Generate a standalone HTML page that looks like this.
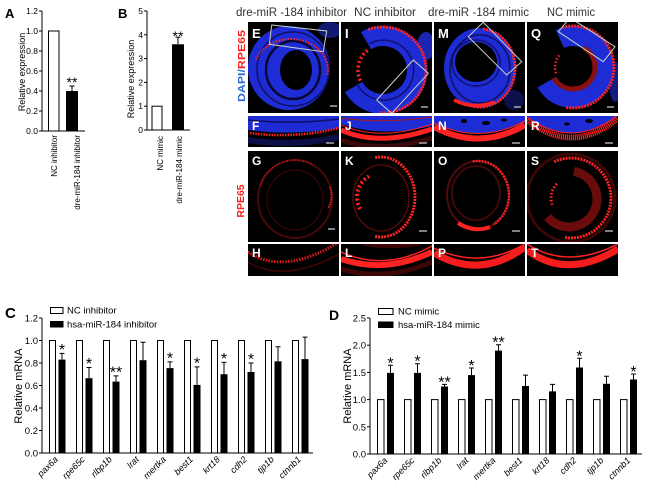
<!DOCTYPE html>
<html><head><meta charset="utf-8"><style>
html,body{margin:0;padding:0;background:#fff;}
svg{display:block;}
text{font-family:"Liberation Sans",Arial,sans-serif;}
</style></head><body>
<svg width="650" height="492" viewBox="0 0 650 492" xmlns="http://www.w3.org/2000/svg">
<defs>
<clipPath id="c91"><rect x="0" y="0" width="91" height="91"/></clipPath>
<clipPath id="c31"><rect x="0" y="0" width="91" height="31"/></clipPath>
<clipPath id="c32"><rect x="0" y="0" width="91" height="32"/></clipPath>
</defs>
<rect width="650" height="492" fill="#fff"/>

<!-- ===== Panel A ===== -->
<text x="5" y="18" font-size="13" font-weight="bold">A</text>
<g stroke="#000" stroke-width="1" fill="none">
<line x1="42" y1="11" x2="42" y2="131"/>
<line x1="42" y1="131" x2="85" y2="131"/>
<line x1="39" y1="131" x2="42" y2="131"/><line x1="39" y1="111" x2="42" y2="111"/>
<line x1="39" y1="91" x2="42" y2="91"/><line x1="39" y1="71" x2="42" y2="71"/>
<line x1="39" y1="51" x2="42" y2="51"/><line x1="39" y1="31" x2="42" y2="31"/>
<line x1="39" y1="11" x2="42" y2="11"/>
</g>
<g font-size="8.5" text-anchor="end">
<text x="38" y="134">0.0</text><text x="38" y="114">0.2</text><text x="38" y="94">0.4</text>
<text x="38" y="74">0.6</text><text x="38" y="54">0.8</text><text x="38" y="34">1.0</text><text x="38" y="14">1.2</text>
</g>
<rect x="48.5" y="31" width="10.5" height="100" fill="#fff" stroke="#000"/>
<rect x="66" y="91" width="12" height="40" fill="#000"/>
<line x1="72" y1="91" x2="72" y2="86" stroke="#000"/><line x1="69.5" y1="86" x2="74.5" y2="86" stroke="#000"/>
<text x="72" y="87" font-size="14" text-anchor="middle">**</text>
<text transform="translate(25,72) rotate(-90)" font-size="9" text-anchor="middle">Relative expression</text>
<text transform="translate(57,135) rotate(-90)" font-size="8" text-anchor="end">NC inhibitor</text>
<text transform="translate(80,135) rotate(-90)" font-size="8" text-anchor="end">dre-miR-184 inhibitor</text>

<!-- ===== Panel B ===== -->
<text x="118" y="18" font-size="13" font-weight="bold">B</text>
<g stroke="#000" stroke-width="1" fill="none">
<line x1="147" y1="11" x2="147" y2="130"/>
<line x1="147" y1="130" x2="190" y2="130"/>
<line x1="144" y1="130" x2="147" y2="130"/><line x1="144" y1="106.2" x2="147" y2="106.2"/>
<line x1="144" y1="82.4" x2="147" y2="82.4"/><line x1="144" y1="58.6" x2="147" y2="58.6"/>
<line x1="144" y1="34.8" x2="147" y2="34.8"/><line x1="144" y1="11" x2="147" y2="11"/>
</g>
<g font-size="8.5" text-anchor="end">
<text x="143" y="133">0</text><text x="143" y="109.2">1</text><text x="143" y="85.4">2</text>
<text x="143" y="61.6">3</text><text x="143" y="37.8">4</text><text x="143" y="14">5</text>
</g>
<rect x="152" y="106.2" width="10" height="23.8" fill="#fff" stroke="#000"/>
<rect x="172" y="44.3" width="12" height="85.7" fill="#000"/>
<line x1="178" y1="44.3" x2="178" y2="37.2" stroke="#000"/><line x1="175.5" y1="37.2" x2="180.5" y2="37.2" stroke="#000"/>
<text x="178" y="41" font-size="14" text-anchor="middle">**</text>
<text transform="translate(134,79) rotate(-90)" font-size="9" text-anchor="middle">Relative expression</text>
<text transform="translate(163,136) rotate(-90)" font-size="8" text-anchor="end">NC mimic</text>
<text transform="translate(182,136) rotate(-90)" font-size="8" text-anchor="end">dre-miR-184 mimic</text>

<!-- ===== Image column titles ===== -->
<g font-size="11.5" fill="#333">
<text x="236" y="16" textLength="111" lengthAdjust="spacingAndGlyphs">dre-miR -184 inhibitor</text>
<text x="354" y="16" textLength="62" lengthAdjust="spacingAndGlyphs">NC inhibitor</text>
<text x="428" y="16" textLength="101" lengthAdjust="spacingAndGlyphs">dre-miR -184 mimic</text>
<text x="547" y="16" textLength="48" lengthAdjust="spacingAndGlyphs">NC mimic</text>
</g>
<text transform="translate(245,66) rotate(-90)" font-size="10.5" font-weight="bold" text-anchor="middle" textLength="72" lengthAdjust="spacingAndGlyphs"><tspan fill="#2a6ad4">DAPI/</tspan><tspan fill="#ff1e1e">RPE65</tspan></text>
<text transform="translate(244,201) rotate(-90)" font-size="10.5" font-weight="bold" text-anchor="middle" fill="#ff1e1e">RPE65</text>

<!-- ===== Row 1: E I M Q ===== -->
<g transform="translate(248,22)" clip-path="url(#c91)">
<rect width="91" height="91" fill="#000"/>
<ellipse cx="82" cy="8" rx="12" ry="8" fill="#1a24a0" opacity="0.7"/>
<ellipse cx="41" cy="46" rx="41" ry="42" fill="#1e2cd6"/>
<ellipse cx="45" cy="47" rx="36" ry="37" fill="none" stroke="#101060" stroke-width="1.5"/>
<ellipse cx="45" cy="48" rx="27" ry="29" fill="none" stroke="#080830" stroke-width="2.5"/>
<ellipse cx="48" cy="48" rx="16" ry="20" fill="#000"/>
<path d="M8.2 37.4 A37 31 0 0 1 79.4 53.4" fill="none" stroke="#ff2222" stroke-width="2" stroke-dasharray="1.5 1.5"/>
<polygon points="23.7,3 78.7,9 75.3,29.7 21.3,22.3" fill="none" stroke="#c8d2c8" stroke-width="1"/>
<line x1="82" y1="84" x2="89" y2="84" stroke="#aaa" stroke-width="1.5"/>
<text x="4" y="16" font-size="13" font-weight="bold" fill="#fff">E</text>
</g>
<g transform="translate(341,22)" clip-path="url(#c91)">
<rect width="91" height="91" fill="#000"/>
<ellipse cx="85" cy="24" rx="9" ry="14" fill="#1a26b0"/>
<path d="M25 18.6 A34 34 0 1 1 12.6 65" fill="none" stroke="#1e2cd6" stroke-width="20"/>
<path d="M28 22 A30 30 0 1 1 16 62" fill="none" stroke="#101070" stroke-width="1.5"/>
<path d="M27.3 7.6 A43 43 0 1 1 38.25 90.8" fill="none" stroke="#ff2222" stroke-width="3" stroke-dasharray="2 1"/>
<path d="M19.3 58.6 A25 25 0 0 1 27.7 27.5" fill="none" stroke="#ff2222" stroke-width="3.5" stroke-dasharray="2 2.5"/>
<polygon points="35.7,78 72.3,38 87.3,51.3 50.7,91.3" fill="none" stroke="#c8d2c8" stroke-width="1"/>
<line x1="80" y1="85" x2="87" y2="85" stroke="#aaa" stroke-width="1.5"/>
<text x="4" y="16" font-size="13" font-weight="bold" fill="#fff">I</text>
</g>
<g transform="translate(434,22)" clip-path="url(#c91)">
<rect width="91" height="91" fill="#000"/>
<ellipse cx="80" cy="78" rx="10" ry="10" fill="#141a80" opacity="0.6"/>
<ellipse cx="46" cy="46" rx="36" ry="40" fill="#1e2cd6"/>
<ellipse cx="46" cy="47" rx="30" ry="34" fill="none" stroke="#101060" stroke-width="1.5"/>
<ellipse cx="42" cy="41" rx="24" ry="23" fill="none" stroke="#101070" stroke-width="1.5"/>
<ellipse cx="42" cy="40" rx="21" ry="20" fill="#000"/>
<path d="M49.05 7.15 A35 39 0 1 1 34.03 82.65" fill="none" stroke="#ff2222" stroke-width="3" stroke-dasharray="2 1"/>
<path d="M20 78 Q40 88 60 80" fill="none" stroke="#ff2222" stroke-width="3.5"/>
<polygon points="34.3,14.7 49.3,0.3 87.7,39.7 72.7,53" fill="none" stroke="#c8d2c8" stroke-width="1"/>
<line x1="80" y1="85" x2="87" y2="85" stroke="#aaa" stroke-width="1.5"/>
<text x="4" y="16" font-size="13" font-weight="bold" fill="#fff">M</text>
</g>
<g transform="translate(527,22)" clip-path="url(#c91)">
<rect width="91" height="91" fill="#000"/>
<ellipse cx="88" cy="60" rx="6" ry="20" fill="#141a80"/>
<path d="M32.9 16.9 A31 31 0 1 1 19.15 60.5" fill="none" stroke="#1e2cd6" stroke-width="20"/>
<path d="M57 25.95 A22 22 0 1 1 26.95 56" fill="none" stroke="#8a1010" stroke-width="5"/>
<path d="M35.4 5.4 A41 41 0 1 1 38.9 85.4" fill="none" stroke="#ff2222" stroke-width="3" stroke-dasharray="2 1"/>
<path d="M29.1 51.2 A18 18 0 0 1 32.2 33.4" fill="none" stroke="#ff2222" stroke-width="2.5" stroke-dasharray="1.5 2"/>
<polygon points="31.3,9.7 43,-4.3 88,24.7 76.3,39.7" fill="none" stroke="#c8d2c8" stroke-width="1"/>
<line x1="80" y1="85" x2="87" y2="85" stroke="#aaa" stroke-width="1.5"/>
<text x="4" y="16" font-size="13" font-weight="bold" fill="#fff">Q</text>
</g>

<!-- ===== Row 2: F J N R ===== -->
<g transform="translate(248,116)" clip-path="url(#c31)">
<rect width="91" height="31" fill="#000"/>
<path d="M0 0 H91 V12 Q46 20 0 14 Z" fill="#1e2cd6"/>
<path d="M0 4 Q46 9 91 3" fill="none" stroke="#101060" stroke-width="1.5"/>
<path d="M2 17 Q46 23 91 12" fill="none" stroke="#ff2222" stroke-width="2.5" stroke-dasharray="1.5 1.2"/>
<path d="M0 24 Q46 31 91 21" fill="none" stroke="#1a2090" stroke-width="6" opacity="0.5"/>
<line x1="78" y1="27" x2="86" y2="27" stroke="#aaa" stroke-width="1.5"/>
<text x="4" y="14" font-size="12" font-weight="bold" fill="#fff">F</text>
</g>
<g transform="translate(341,116)" clip-path="url(#c31)">
<rect width="91" height="31" fill="#000"/>
<path d="M0 0 H91 V10 Q40 22 0 8 Z" fill="#1e2cd6"/>
<path d="M0 2 Q40 8 91 1" fill="none" stroke="#aa1a1a" stroke-width="1"/>
<path d="M0 9 Q40 26 91 8" fill="none" stroke="#ff2222" stroke-width="1"/>
<path d="M0 14 Q38 31 91 13" fill="none" stroke="#ff2222" stroke-width="5"/>
<path d="M0 24 Q40 38 91 22" fill="none" stroke="#3a0808" stroke-width="5"/>
<line x1="78" y1="27" x2="86" y2="27" stroke="#aaa" stroke-width="1.5"/>
<text x="4" y="14" font-size="12" font-weight="bold" fill="#fff">J</text>
</g>
<g transform="translate(434,116)" clip-path="url(#c31)">
<rect width="91" height="31" fill="#000"/>
<path d="M0 0 H91 V6 Q46 28 0 8 Z" fill="#1e2cd6"/>
<ellipse cx="30" cy="5" rx="3" ry="2" fill="#000"/><ellipse cx="52" cy="7" rx="4" ry="2" fill="#000"/><ellipse cx="70" cy="4" rx="3" ry="1.5" fill="#000"/>
<path d="M0 7 Q46 29 91 5" fill="none" stroke="#ff2222" stroke-width="1"/>
<path d="M0 11 Q46 35 91 9" fill="none" stroke="#ff2222" stroke-width="6"/>
<line x1="78" y1="27" x2="86" y2="27" stroke="#aaa" stroke-width="1.5"/>
<text x="4" y="14" font-size="12" font-weight="bold" fill="#fff">N</text>
</g>
<g transform="translate(527,116)" clip-path="url(#c31)">
<rect width="91" height="31" fill="#000"/>
<path d="M0 0 H91 Q46 34 0 2 Z" fill="#1e2cd6"/>
<ellipse cx="62" cy="5" rx="4" ry="2" fill="#000"/><ellipse cx="40" cy="8" rx="3" ry="1.5" fill="#000"/>
<path d="M0 1 Q46 34 91 -1" fill="none" stroke="#ff2222" stroke-width="1"/>
<path d="M0 4 Q46 40 91 2" fill="none" stroke="#ff2222" stroke-width="6" stroke-dasharray="1.2 0.8"/>
<line x1="78" y1="27" x2="86" y2="27" stroke="#aaa" stroke-width="1.5"/>
<text x="4" y="14" font-size="12" font-weight="bold" fill="#fff">R</text>
</g>

<!-- ===== Row 3: G K O S ===== -->
<g transform="translate(248,151)" clip-path="url(#c91)">
<rect width="91" height="91" fill="#000"/>
<ellipse cx="47" cy="48" rx="37" ry="39" fill="none" stroke="#4a0808" stroke-width="2"/>
<ellipse cx="47" cy="49" rx="28" ry="30" fill="none" stroke="#300505" stroke-width="1.5"/>
<path d="M12.2 34.7 A37 39 0 0 1 65.5 14.2" fill="none" stroke="#c81818" stroke-width="1.8" stroke-dasharray="1.2 1.5"/>
<path d="M82 36 Q86 46 80 58" fill="none" stroke="#e02020" stroke-width="2" stroke-dasharray="1.5 1"/>
<line x1="80" y1="78" x2="87" y2="78" stroke="#aaa" stroke-width="1.5"/>
<text x="4" y="14" font-size="12" font-weight="bold" fill="#fff">G</text>
</g>
<g transform="translate(341,151)" clip-path="url(#c91)">
<rect width="91" height="91" fill="#000"/>
<ellipse cx="40" cy="47" rx="28" ry="33" fill="none" stroke="#500a0a" stroke-width="1.5"/>
<path d="M34.1 6.6 A34 40 0 1 1 34.1 85.4" fill="none" stroke="#ff2222" stroke-width="3" stroke-dasharray="2 1"/>
<path d="M19.2 58 A24 24 0 0 1 28 25.2" fill="none" stroke="#ff2222" stroke-width="4" stroke-dasharray="2 2.5"/>
<line x1="78" y1="80" x2="86" y2="80" stroke="#aaa" stroke-width="1.5"/>
<text x="4" y="14" font-size="12" font-weight="bold" fill="#fff">K</text>
</g>
<g transform="translate(434,151)" clip-path="url(#c91)">
<rect width="91" height="91" fill="#000"/>
<ellipse cx="44" cy="44" rx="31" ry="34" fill="none" stroke="#500a0a" stroke-width="2"/>
<ellipse cx="42" cy="42" rx="24" ry="27" fill="none" stroke="#400808" stroke-width="2"/>
<path d="M38.6 10.5 A31 34 0 0 1 59.5 73.4" fill="none" stroke="#ff2222" stroke-width="2.5" stroke-dasharray="2 1"/>
<path d="M56 76 Q40 82 24 72" fill="none" stroke="#ff2222" stroke-width="4"/>
<line x1="78" y1="80" x2="86" y2="80" stroke="#aaa" stroke-width="1.5"/>
<text x="4" y="14" font-size="12" font-weight="bold" fill="#fff">O</text>
</g>
<g transform="translate(527,151)" clip-path="url(#c91)">
<rect width="91" height="91" fill="#000"/>
<ellipse cx="44" cy="47" rx="44" ry="44" fill="none" stroke="#3a0606" stroke-width="3"/>
<path d="M46.9 20.4 A28 28 0 1 1 20.6 66" fill="none" stroke="#6a0c0c" stroke-width="9"/>
<path d="M27.1 10.75 A40 40 0 1 1 37.1 86.4" fill="none" stroke="#ff2222" stroke-width="3" stroke-dasharray="2 1"/>
<path d="M25.2 53.8 A20 20 0 0 1 31.1 31.7" fill="none" stroke="#ff2222" stroke-width="3" stroke-dasharray="1.5 2"/>
<line x1="78" y1="80" x2="86" y2="80" stroke="#aaa" stroke-width="1.5"/>
<text x="4" y="14" font-size="12" font-weight="bold" fill="#fff">S</text>
</g>

<!-- ===== Row 4: H L P T ===== -->
<g transform="translate(248,244)" clip-path="url(#c32)">
<rect width="91" height="32" fill="#000"/>
<path d="M0 18 Q36 40 91 10" fill="none" stroke="#400606" stroke-width="1.5"/>
<path d="M0 8 Q36 32 91 -2" fill="none" stroke="#e01818" stroke-width="3" stroke-dasharray="1.5 1.3"/>
<text x="4" y="13" font-size="12" font-weight="bold" fill="#fff">H</text>
</g>
<g transform="translate(341,244)" clip-path="url(#c32)">
<rect width="91" height="32" fill="#000"/>
<ellipse cx="50" cy="0" rx="30" ry="4" fill="#3a0606"/>
<path d="M0 8 Q44 28 91 2" fill="none" stroke="#ff2222" stroke-width="1.5"/>
<path d="M0 15 Q44 30 91 8" fill="none" stroke="#ff2222" stroke-width="6"/>
<path d="M0 25 Q44 38 91 18" fill="none" stroke="#3a0606" stroke-width="5"/>
<text x="4" y="13" font-size="12" font-weight="bold" fill="#fff">L</text>
</g>
<g transform="translate(434,244)" clip-path="url(#c32)">
<rect width="91" height="32" fill="#000"/>
<path d="M0 4 Q46 26 91 0" fill="none" stroke="#ff2222" stroke-width="1.5"/>
<path d="M0 9 Q46 36 91 3" fill="none" stroke="#f41c1c" stroke-width="7"/>
<text x="4" y="13" font-size="12" font-weight="bold" fill="#fff">P</text>
</g>
<g transform="translate(527,244)" clip-path="url(#c32)">
<rect width="91" height="32" fill="#000"/>
<path d="M0 0 Q40 26 91 0" fill="none" stroke="#ff2222" stroke-width="1.5"/>
<path d="M0 6 Q40 36 91 5" fill="none" stroke="#f41c1c" stroke-width="7"/>
<text x="4" y="13" font-size="12" font-weight="bold" fill="#fff">T</text>
</g>

<!-- ===== Panel C ===== -->
<text x="5" y="318" font-size="15" font-weight="bold">C</text>
<rect x="50.5" y="307.5" width="12.5" height="6" fill="#fff" stroke="#000"/>
<text x="67" y="313.5" font-size="9.5">NC inhibitor</text>
<rect x="50" y="321" width="13.5" height="6.5" fill="#000"/>
<text x="67" y="327.5" font-size="9.5">hsa-miR-184 inhibitor</text>
<g stroke="#000" stroke-width="1" fill="none">
<line x1="42" y1="318" x2="42" y2="453"/>
<line x1="42" y1="453" x2="313" y2="453"/>
<line x1="39" y1="453" x2="42" y2="453"/><line x1="39" y1="430.5" x2="42" y2="430.5"/>
<line x1="39" y1="408" x2="42" y2="408"/><line x1="39" y1="385.5" x2="42" y2="385.5"/>
<line x1="39" y1="363" x2="42" y2="363"/><line x1="39" y1="340.5" x2="42" y2="340.5"/>
<line x1="39" y1="318" x2="42" y2="318"/>
</g>
<g font-size="9.5" text-anchor="end">
<text x="38" y="456.5">0.0</text><text x="38" y="434">0.2</text><text x="38" y="411.5">0.4</text>
<text x="38" y="389">0.6</text><text x="38" y="366.5">0.8</text><text x="38" y="344">1.0</text><text x="38" y="321.5">1.2</text>
</g>
<g fill="#fff" stroke="#000" stroke-width="1">
<rect x="49.5" y="340.5" width="6" height="112.5"/><rect x="76.5" y="340.5" width="6" height="112.5"/>
<rect x="103.5" y="340.5" width="6" height="112.5"/><rect x="130.5" y="340.5" width="6" height="112.5"/>
<rect x="157.5" y="340.5" width="6" height="112.5"/><rect x="184.5" y="340.5" width="6" height="112.5"/>
<rect x="211.5" y="340.5" width="6" height="112.5"/><rect x="238.5" y="340.5" width="6" height="112.5"/>
<rect x="265.5" y="340.5" width="6" height="112.5"/><rect x="292.5" y="340.5" width="6" height="112.5"/>
</g>
<g fill="#000">
<rect x="58.5" y="359.6" width="7" height="93.4"/><rect x="85.5" y="378.2" width="7" height="74.8"/>
<rect x="112.5" y="381.6" width="7" height="71.4"/><rect x="139.5" y="360.2" width="7" height="92.8"/>
<rect x="166.5" y="368.1" width="7" height="84.9"/><rect x="193.5" y="384.9" width="7" height="68.1"/>
<rect x="220.5" y="374.25" width="7" height="78.75"/><rect x="247.5" y="372" width="7" height="81"/>
<rect x="274.5" y="361.3" width="7" height="91.7"/><rect x="301.5" y="359.1" width="7" height="93.9"/>
</g>
<g stroke="#000" stroke-width="1">
<path d="M62 359.6V353.4M59.5 353.4H64.5"/>
<path d="M89 378.2V367.5M86.5 367.5H91.5"/>
<path d="M116 381.6V375.9M113.5 375.9H118.5"/>
<path d="M143 360.2V342.2M140.5 342.2H145.5"/>
<path d="M170 368.1V361.9M167.5 361.9H172.5"/>
<path d="M197 384.9V366.9M194.5 366.9H199.5"/>
<path d="M224 374.25V362.4M221.5 362.4H226.5"/>
<path d="M251 372V363M248.5 363H253.5"/>
<path d="M278 361.3V346.7M275.5 346.7H280.5"/>
<path d="M305 359.1V337.1M302.5 337.1H307.5"/>
</g>
<g font-size="16" text-anchor="middle">
<text x="62" y="355">*</text><text x="89" y="369">*</text><text x="116" y="377.4">**</text>
<text x="170" y="363.4">*</text><text x="197" y="368.4">*</text><text x="224" y="363.9">*</text><text x="251" y="364.5">*</text>
</g>
<g font-size="9" font-style="italic" text-anchor="end">
<text transform="translate(58.5,460) rotate(-45)">pax6a</text>
<text transform="translate(85.5,460) rotate(-45)">rpe65c</text>
<text transform="translate(112.5,460) rotate(-45)">rlbp1b</text>
<text transform="translate(139.5,460) rotate(-45)">lrat</text>
<text transform="translate(166.5,460) rotate(-45)">mertka</text>
<text transform="translate(193.5,460) rotate(-45)">best1</text>
<text transform="translate(220.5,460) rotate(-45)">krt18</text>
<text transform="translate(247.5,460) rotate(-45)">cdh2</text>
<text transform="translate(274.5,460) rotate(-45)">tjp1b</text>
<text transform="translate(301.5,460) rotate(-45)">ctnnb1</text>
</g>
<text transform="translate(22,386) rotate(-90)" font-size="11" text-anchor="middle">Relative mRNA</text>

<!-- ===== Panel D ===== -->
<text x="329" y="320" font-size="14" font-weight="bold">D</text>
<rect x="378.5" y="308.5" width="14.5" height="6" fill="#fff" stroke="#000"/>
<text x="398" y="314.5" font-size="9.5">NC mimic</text>
<rect x="378" y="321.5" width="15.5" height="6.5" fill="#000"/>
<text x="398" y="328" font-size="9.5">hsa-miR-184 mimic</text>
<g stroke="#000" stroke-width="1" fill="none">
<line x1="370" y1="318" x2="370" y2="454"/>
<line x1="370" y1="454" x2="642" y2="454"/>
<line x1="367" y1="454" x2="370" y2="454"/><line x1="367" y1="426.8" x2="370" y2="426.8"/>
<line x1="367" y1="399.6" x2="370" y2="399.6"/><line x1="367" y1="372.4" x2="370" y2="372.4"/>
<line x1="367" y1="345.2" x2="370" y2="345.2"/><line x1="367" y1="318" x2="370" y2="318"/>
</g>
<g font-size="9.5" text-anchor="end">
<text x="366" y="457.5">0.0</text><text x="366" y="430.3">0.5</text><text x="366" y="403.1">1.0</text>
<text x="366" y="375.9">1.5</text><text x="366" y="348.7">2.0</text><text x="366" y="321.5">2.5</text>
</g>
<g fill="#fff" stroke="#000" stroke-width="1">
<rect x="377.5" y="399.6" width="6.5" height="54.4"/><rect x="404.5" y="399.6" width="6.5" height="54.4"/>
<rect x="431.5" y="399.6" width="6.5" height="54.4"/><rect x="458.5" y="399.6" width="6.5" height="54.4"/>
<rect x="485.5" y="399.6" width="6.5" height="54.4"/><rect x="512.5" y="399.6" width="6.5" height="54.4"/>
<rect x="539.5" y="399.6" width="6.5" height="54.4"/><rect x="566.5" y="399.6" width="6.5" height="54.4"/>
<rect x="593.5" y="399.6" width="6.5" height="54.4"/><rect x="620.5" y="399.6" width="6.5" height="54.4"/>
</g>
<g fill="#000">
<rect x="387" y="372.9" width="7" height="81.1"/><rect x="414" y="372.9" width="7" height="81.1"/>
<rect x="441" y="386.5" width="7" height="67.5"/><rect x="468" y="375.1" width="7" height="78.9"/>
<rect x="495" y="350.6" width="7" height="103.4"/><rect x="522" y="386" width="7" height="68"/>
<rect x="549" y="391.4" width="7" height="62.6"/><rect x="576" y="367.5" width="7" height="86.5"/>
<rect x="603" y="383.8" width="7" height="70.2"/><rect x="630" y="379.5" width="7" height="74.5"/>
</g>
<g stroke="#000" stroke-width="1">
<path d="M390.5 372.9V365.3M388 365.3H393"/>
<path d="M417.5 372.9V363.7M415 363.7H420"/>
<path d="M444.5 386.5V384.4M442 384.4H447"/>
<path d="M471.5 375.1V368M469 368H474"/>
<path d="M498.5 350.6V344.7M496 344.7H501"/>
<path d="M525.5 386V375.1M523 375.1H528"/>
<path d="M552.5 391.4V384.4M550 384.4H555"/>
<path d="M579.5 367.5V358.3M577 358.3H582"/>
<path d="M606.5 383.8V376.2M604 376.2H609"/>
<path d="M633.5 379.5V374M631 374H636"/>
</g>
<g font-size="16" text-anchor="middle">
<text x="390.5" y="368.3">*</text><text x="417.5" y="366.7">*</text><text x="444.5" y="387.4">**</text>
<text x="471.5" y="371">*</text><text x="498.5" y="347.7">**</text><text x="579.5" y="361.3">*</text><text x="633.5" y="377">*</text>
</g>
<g font-size="9" font-style="italic" text-anchor="end">
<text transform="translate(388,461) rotate(-45)">pax6a</text>
<text transform="translate(415,461) rotate(-45)">rpe65c</text>
<text transform="translate(442,461) rotate(-45)">rlbp1b</text>
<text transform="translate(469,461) rotate(-45)">lrat</text>
<text transform="translate(496,461) rotate(-45)">mertka</text>
<text transform="translate(523,461) rotate(-45)">best1</text>
<text transform="translate(550,461) rotate(-45)">krt18</text>
<text transform="translate(577,461) rotate(-45)">cdh2</text>
<text transform="translate(604,461) rotate(-45)">tjp1b</text>
<text transform="translate(631,461) rotate(-45)">ctnnb1</text>
</g>
<text transform="translate(351,386) rotate(-90)" font-size="11" text-anchor="middle">Relative mRNA</text>
</svg>
</body></html>
